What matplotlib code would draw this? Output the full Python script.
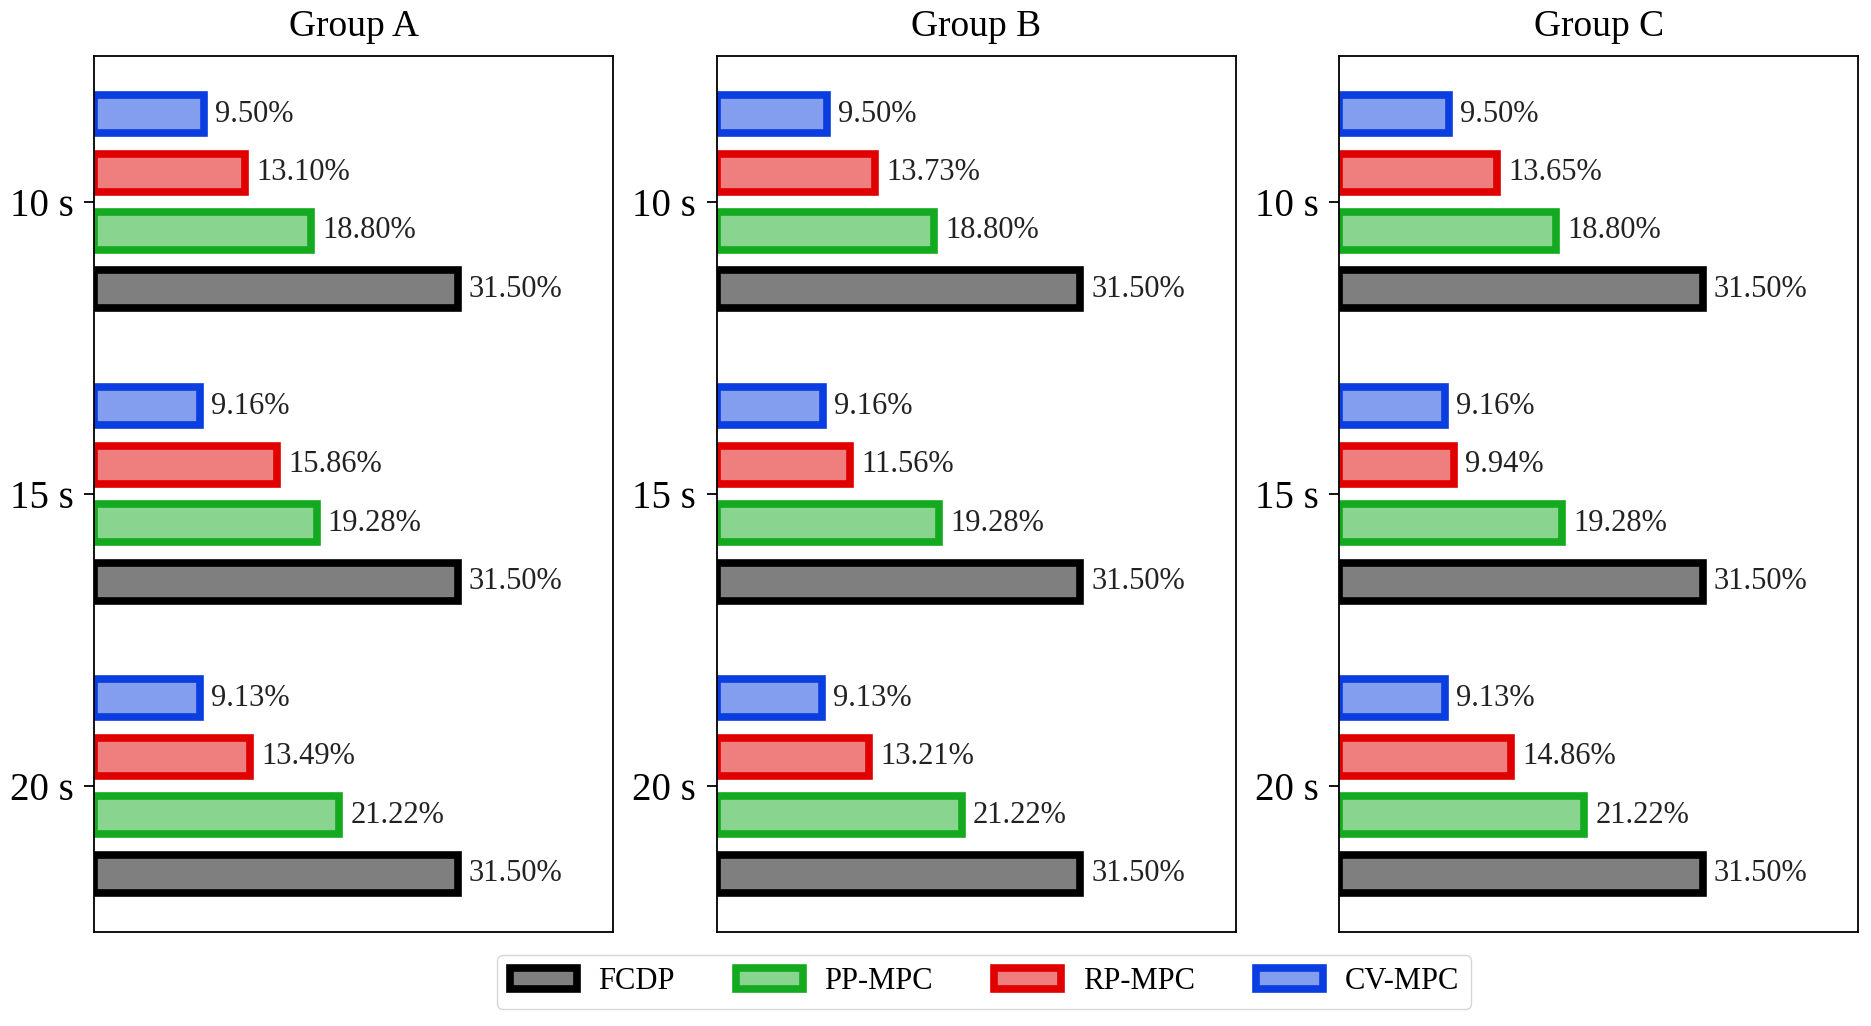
import matplotlib
matplotlib.use("Agg")
import matplotlib.pyplot as plt
from matplotlib.patches import Patch
from matplotlib.colors import to_rgba

plt.rcParams['font.family'] = ['Liberation Serif', 'DejaVu Serif']

groups = ["Group A", "Group B", "Group C"]
horizons = ["10 s", "15 s", "20 s"]
series = ["FCDP", "PP-MPC", "RP-MPC", "CV-MPC"]

fcdp = {"Group A": [31.50, 31.50, 31.50],
        "Group B": [31.50, 31.50, 31.50],
        "Group C": [31.50, 31.50, 31.50]}
pp_mpc = {"Group A": [18.80, 19.28, 21.22],
          "Group B": [18.80, 19.28, 21.22],
          "Group C": [18.80, 19.28, 21.22]}
rp_mpc = {"Group A": [13.10, 15.86, 13.49],
          "Group B": [13.73, 11.56, 13.21],
          "Group C": [13.65, 9.94, 14.86]}
cv_mpc = {"Group A": [9.50, 9.16, 9.13],
          "Group B": [9.50, 9.16, 9.13],
          "Group C": [9.50, 9.16, 9.13]}

colors = {"FCDP": "#000000", "PP-MPC": "#14aa20", "RP-MPC": "#e00000", "CV-MPC": "#0a3ee0"}
offsets = {"FCDP": 0.3, "PP-MPC": 0.1, "RP-MPC": -0.1, "CV-MPC": -0.3}
data = {"FCDP": fcdp, "PP-MPC": pp_mpc, "RP-MPC": rp_mpc, "CV-MPC": cv_mpc}

W, H = 1871, 1026
fig = plt.figure(figsize=(W / 100, H / 100), dpi=100)

lefts = [0.0504, 0.3832, 0.7159]
width = 0.2774
bottom, top = 0.0915, 0.9457
bar_h = 0.13
lw = 5.5

for gi, g in enumerate(groups):
    ax = fig.add_axes([lefts[gi], bottom, width, top - bottom])
    for s in series:
        vals = data[s][g]
        ys = [i + offsets[s] for i in range(len(horizons))]
        ax.barh(ys, vals, height=bar_h, facecolor=to_rgba(colors[s], 0.5),
                edgecolor=colors[s], linewidth=lw)
        for y, v in zip(ys, vals):
            ax.annotate(f"{v:.2f}%", xy=(v, y), xytext=(8, 0), textcoords="offset points",
                        va="center", ha="left", fontsize=22, color="#222222")
    ax.set_xlim(0, 45.0)
    ax.set_ylim(2.5, -0.5)
    ax.set_yticks(range(len(horizons)))
    ax.set_yticklabels(horizons, fontsize=28)
    ax.set_xticks([])
    ax.tick_params(axis='y', length=7, width=1.3, pad=8)
    for sp in ax.spines.values():
        sp.set_linewidth(1.3)
    ax.set_title(g, fontsize=27, pad=14)

handles = [Patch(facecolor=to_rgba(colors[s], 0.5), edgecolor=colors[s], linewidth=lw, label=s)
           for s in series]
fig.legend(handles=handles, loc="lower center", bbox_to_anchor=(0.526, 0.002), ncol=4,
           fontsize=22, handlelength=2.2, handletextpad=0.7, columnspacing=2.0,
           frameon=True)

fig.savefig("out.png", dpi=100)
